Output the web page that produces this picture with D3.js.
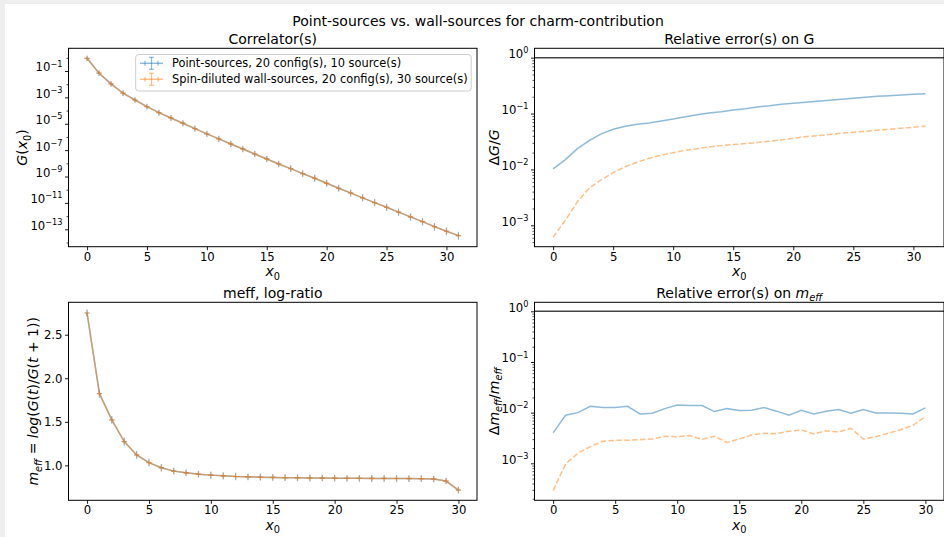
<!DOCTYPE html>
<html><head><meta charset="utf-8">
<script src="https://cdn.jsdelivr.net/npm/d3@7"></script>
<style>
body{margin:0;background:#eeeeee;}
svg{display:block;}
</style></head><body>
<svg id="fig" width="944" height="537"></svg>
<script>
// values
const labels = ["Point-sources, 20 config(s), 10 source(s)",
                "Spin-diluted wall-sources, 20 config(s), 30 source(s)"];

const gPoint = [0.91, 6.8e-2, 1.05e-2, 2.1e-3, 6.3e-4, 2.0e-4, 6.9e-5, 2.75e-5, 1.1e-5, 4.3e-6,
  1.7e-6, 7.1e-7, 2.95e-7, 1.23e-7, 5.1e-8, 2.14e-8, 8.9e-9, 4.0e-9, 1.66e-9, 7.4e-10,
  3.1e-10, 1.29e-10, 5.75e-11, 2.4e-11, 1.05e-11, 4.7e-12, 2.0e-12, 8.7e-13, 3.8e-13, 1.58e-13,
  7.1e-14, 3.3e-14];
const gWall = [0.91, 6.8e-2, 1.05e-2, 2.1e-3, 6.3e-4, 2.0e-4, 6.9e-5, 2.75e-5, 1.1e-5, 4.3e-6,
  1.7e-6, 7.1e-7, 2.95e-7, 1.23e-7, 5.1e-8, 2.14e-8, 8.9e-9, 4.0e-9, 1.66e-9, 7.4e-10,
  3.1e-10, 1.29e-10, 5.75e-11, 2.4e-11, 1.05e-11, 4.7e-12, 2.0e-12, 8.7e-13, 3.8e-13, 1.58e-13,
  7.1e-14, 3.3e-14];

const relGPoint = [0.0102, 0.0148, 0.0233, 0.0327, 0.0432, 0.0525, 0.0593, 0.0646, 0.0679, 0.0738,
  0.080, 0.088, 0.0955, 0.102, 0.108, 0.116, 0.122, 0.131, 0.138, 0.147,
  0.153, 0.159, 0.166, 0.173, 0.180, 0.188, 0.196, 0.204, 0.209, 0.215, 0.221, 0.227];
const relGWall = [6.1e-4, 1.21e-3, 2.59e-3, 4.61e-3, 6.49e-3, 8.77e-3, 0.0112, 0.01346, 0.01585, 0.01795,
  0.01995, 0.02203, 0.02355, 0.0253, 0.02667, 0.0278, 0.029, 0.0302, 0.0319, 0.0337,
  0.0361, 0.0386, 0.0403, 0.042, 0.0445, 0.0462, 0.0482, 0.0502, 0.0524, 0.0546, 0.0569, 0.060];

const meffPoint = [2.749, 1.823, 1.522, 1.273, 1.12, 1.032, 0.972, 0.934, 0.914, 0.899,
  0.888, 0.880, 0.872, 0.869, 0.865, 0.862, 0.859, 0.857, 0.855, 0.854,
  0.853, 0.852, 0.851, 0.850, 0.850, 0.849, 0.848, 0.847, 0.843, 0.820, 0.715];
const meffWall = [2.749, 1.823, 1.522, 1.273, 1.12, 1.032, 0.972, 0.934, 0.914, 0.899,
  0.888, 0.880, 0.872, 0.869, 0.865, 0.862, 0.859, 0.857, 0.855, 0.854,
  0.853, 0.852, 0.851, 0.850, 0.850, 0.849, 0.848, 0.847, 0.843, 0.820, 0.715];

const relMPoint = [0.0040, 0.0089, 0.0100, 0.0133, 0.0126, 0.0127, 0.0133, 0.0094, 0.0097, 0.0120,
  0.0141, 0.0138, 0.0138, 0.0105, 0.0120, 0.0110, 0.0112, 0.0126, 0.0107, 0.0089,
  0.0111, 0.0094, 0.0107, 0.0115, 0.0097, 0.0115, 0.0098, 0.0098, 0.0097, 0.0094, 0.0124];
const relMWall = [2.9e-4, 9.7e-4, 1.58e-3, 2.14e-3, 2.72e-3, 2.84e-3, 2.84e-3, 2.93e-3, 3.02e-3, 3.41e-3,
  3.36e-3, 3.52e-3, 2.98e-3, 3.41e-3, 2.59e-3, 3.02e-3, 3.63e-3, 3.91e-3, 3.85e-3, 4.29e-3,
  4.55e-3, 3.80e-3, 4.37e-3, 4.17e-3, 4.90e-3, 3.02e-3, 3.36e-3, 3.91e-3, 4.61e-3, 5.62e-3, 8.32e-3];

const xTicks = [0, 5, 10, 15, 20, 25, 30];
const logTicksG = [1e-1, 1e-3, 1e-5, 1e-7, 1e-9, 1e-11, 1e-13];
const logTicksRel = [1, 1e-1, 1e-2, 1e-3];
const meffTicks = [1.0, 1.5, 2.0, 2.5];

const FONT = "DejaVu Sans, sans-serif";
const BLUE = "#1f77b4", ORANGE = "#ff7f0e";
const TICK_FS = 11.7, TITLE_FS = 14, LEGEND_FS = 11.4;

const svg = d3.select("#fig").attr("font-family", FONT);
svg.append("rect").attr("width", 944).attr("height", 537).attr("fill", "#eeeeee");
svg.append("rect").attr("x", 5).attr("y", 4).attr("width", 939).attr("height", 533).attr("fill", "#fff");

// text with sub/superscripts and italics, like matplotlib mathtext
function mathText(t, parts, fs) {
  let shift = 0;
  parts.forEach(function (p) {
    const s = p[0], k = p[1];
    const ts = t.append("tspan").text(s);
    let target = 0;
    if (k === "sub" || k === "subi") target = 0.25 * fs;
    if (k === "sup") target = -0.42 * fs;
    ts.attr("dy", target - shift);
    shift = target;
    if (k === "i" || k === "subi") ts.attr("font-style", "italic");
    if (k === "sub" || k === "subi" || k === "sup") ts.attr("font-size", fs * 0.7);
  });
}

function expLabel(sel) {
  sel.each(function (d) {
    const t = d3.select(this).text("");
    const e = Math.round(Math.log10(d));
    mathText(t, [["10", "n"], [(e < 0 ? "\u2212" : "") + Math.abs(e), "sup"]], TICK_FS);
  });
}

const boxes = {
  tl: {x0: 68.5, x1: 477, y0: 48.3, y1: 246.7},
  tr: {x0: 534.5, x1: 944, y0: 48.3, y1: 246.7},
  bl: {x0: 68.5, x1: 477, y0: 302.3, y1: 500.3},
  br: {x0: 534.5, x1: 944, y0: 302.3, y1: 500.3}
};

function styleAxis(g) {
  g.select(".domain").remove();
  g.selectAll("line").attr("stroke", "#000").attr("stroke-width", 0.9);
  g.selectAll("text").attr("font-size", TICK_FS).attr("fill", "#000").attr("font-family", FONT);
}

function makePanel(b, xDom, y, yTicks, logLabels, minor) {
  const x = d3.scaleLinear().domain(xDom).range([b.x0, b.x1]);
  y.range([b.y1, b.y0]);
  const g = svg.append("g");
  const clip = "clip" + Math.round(b.x0) + Math.round(b.y0);
  svg.append("clipPath").attr("id", clip).append("rect")
    .attr("x", b.x0).attr("y", b.y0).attr("width", b.x1 - b.x0).attr("height", b.y1 - b.y0);

  const gx = g.append("g").attr("transform", "translate(0," + b.y1 + ")")
    .call(d3.axisBottom(x).tickValues(xTicks).tickSize(3.5).tickSizeOuter(0).tickPadding(2.3)
      .tickFormat(d3.format("d")));
  styleAxis(gx);

  if (minor) {
    const gm = g.append("g").attr("transform", "translate(" + b.x0 + ",0)")
      .call(d3.axisLeft(y).tickValues(minor).tickSize(2).tickSizeOuter(0).tickFormat(""));
    styleAxis(gm);
    gm.selectAll("line").attr("stroke-width", 0.7);
  }
  const gy = g.append("g").attr("transform", "translate(" + b.x0 + ",0)")
    .call(d3.axisLeft(y).tickValues(yTicks).tickSize(3.5).tickSizeOuter(0).tickPadding(2.5)
      .tickFormat(logLabels ? function (d) { return d; } : d3.format(".1f")));
  styleAxis(gy);
  if (logLabels) expLabel(gy.selectAll(".tick text"));

  const plot = svg.append("g").attr("clip-path", "url(#" + clip + ")");
  return {x: x, y: y, g: g, plot: plot, b: b};
}

function frame(p) {
  svg.append("rect").attr("x", p.b.x0).attr("y", p.b.y0)
    .attr("width", p.b.x1 - p.b.x0).attr("height", p.b.y1 - p.b.y0)
    .attr("fill", "none").attr("stroke", "#000").attr("stroke-width", 1);
}

function title(p, parts) {
  const t = svg.append("text").attr("x", (p.b.x0 + p.b.x1) / 2).attr("y", p.b.y0 - 4.5)
    .attr("text-anchor", "middle").attr("font-size", TITLE_FS);
  mathText(t, parts, TITLE_FS);
}

function ylabel(p, xPos, parts) {
  const cy = (p.b.y0 + p.b.y1) / 2;
  const t = svg.append("text").attr("transform", "translate(" + xPos + "," + cy + ") rotate(-90)")
    .attr("text-anchor", "middle").attr("font-size", TITLE_FS);
  mathText(t, parts, TITLE_FS);
}

function xlabel(p) {
  const t = svg.append("text").attr("x", (p.b.x0 + p.b.x1) / 2).attr("y", p.b.y1 + 29.5)
    .attr("text-anchor", "middle").attr("font-size", TITLE_FS);
  mathText(t, [["x", "i"], ["0", "sub"]], TITLE_FS);
}

function errSeries(p, vals, rel, color) {
  const line = d3.line().x(function (d, i) { return p.x(i); }).y(function (d) { return p.y(d); });
  p.plot.append("path").datum(vals).attr("d", line).attr("fill", "none")
    .attr("stroke", color).attr("stroke-opacity", 0.5).attr("stroke-width", 1.5);
  const pts = p.plot.append("g").attr("stroke", color).attr("stroke-opacity", 0.5).attr("stroke-width", 1.2)
    .selectAll("g").data(vals).join("g");
  pts.append("line")
    .attr("x1", function (d, i) { return p.x(i) - 2.6; }).attr("x2", function (d, i) { return p.x(i) + 2.6; })
    .attr("y1", function (d) { return p.y(d); }).attr("y2", function (d) { return p.y(d); });
  pts.append("line")
    .attr("x1", function (d, i) { return p.x(i); }).attr("x2", function (d, i) { return p.x(i); })
    .attr("y1", function (d, i) { return p.y(d * (1 + rel[i])) - 2.6; })
    .attr("y2", function (d, i) { return p.y(d * (1 - rel[i])) + 2.6; });
}

function relSeries(p, vals, color, dashed) {
  const line = d3.line().x(function (d, i) { return p.x(i); }).y(function (d) { return p.y(d); });
  p.plot.append("path").datum(vals).attr("d", line).attr("fill", "none")
    .attr("stroke", color).attr("stroke-opacity", 0.5).attr("stroke-width", 1.5)
    .attr("stroke-dasharray", dashed ? "5.5,2.4" : null);
}

function unitLine(p) {
  p.plot.append("line").attr("x1", p.b.x0).attr("x2", p.b.x1)
    .attr("y1", p.y(1)).attr("y2", p.y(1)).attr("stroke", "#444").attr("stroke-width", 1.5);
}

// --- Correlator
const yTL = d3.scaleLog().domain([Math.pow(10, -14.32), Math.pow(10, 0.72)]);
const minorG = [1, 1e-2, 1e-4, 1e-6, 1e-8, 1e-10, 1e-12, 1e-14];
const pTL = makePanel(boxes.tl, [-1.55, 32.55], yTL, logTicksG, true, minorG);
errSeries(pTL, gPoint, relGPoint, BLUE);
errSeries(pTL, gWall, relGWall, ORANGE);
frame(pTL);
title(pTL, [["Correlator(s)", "n"]]);
ylabel(pTL, 27, [["G", "i"], ["(", "n"], ["x", "i"], ["0", "sub"], [")", "n"]]);
xlabel(pTL);

// legend
const leg = svg.append("g");
leg.append("rect").attr("x", 135.7).attr("y", 54.5).attr("width", 335.5).attr("height", 36.5)
  .attr("rx", 3).attr("fill", "#fff").attr("fill-opacity", 0.8).attr("stroke", "#cccccc").attr("stroke-width", 1);
[BLUE, ORANGE].forEach(function (c, i) {
  const cy = 63.3 + i * 16;
  const h = leg.append("g").attr("stroke", c).attr("stroke-opacity", 0.5);
  h.append("line").attr("x1", 140).attr("x2", 163).attr("y1", cy).attr("y2", cy).attr("stroke-width", 1.5);
  h.append("line").attr("x1", 151.5).attr("x2", 151.5).attr("y1", cy - 6).attr("y2", cy + 6).attr("stroke-width", 1.2);
  h.append("line").attr("x1", 149).attr("x2", 154).attr("y1", cy - 6).attr("y2", cy - 6).attr("stroke-width", 1.2);
  h.append("line").attr("x1", 149).attr("x2", 154).attr("y1", cy + 6).attr("y2", cy + 6).attr("stroke-width", 1.2);
  h.append("line").attr("x1", 145).attr("x2", 145).attr("y1", cy - 2.5).attr("y2", cy + 2.5).attr("stroke-width", 1.2);
  h.append("line").attr("x1", 158).attr("x2", 158).attr("y1", cy - 2.5).attr("y2", cy + 2.5).attr("stroke-width", 1.2);
  leg.append("text").attr("x", 172).attr("y", cy + 4.1).attr("font-size", LEGEND_FS).text(labels[i]);
});

// --- Relative error on G
const yTR = d3.scaleLog().domain([Math.pow(10, -3.383), Math.pow(10, 0.168)]);
const pTR = makePanel(boxes.tr, [-1.55, 32.55], yTR, logTicksRel, true,
  yTR.ticks().filter(function (t) { return logTicksRel.indexOf(t) < 0; }));
relSeries(pTR, relGPoint, BLUE, false);
relSeries(pTR, relGWall, ORANGE, true);
unitLine(pTR);
frame(pTR);
title(pTR, [["Relative error(s) on G", "n"]]);
ylabel(pTR, 499, [["\u0394", "n"], ["G", "i"], ["/", "n"], ["G", "i"]]);
xlabel(pTR);

// --- meff
const yBL = d3.scaleLinear().domain([0.599, 2.872]);
const pBL = makePanel(boxes.bl, [-1.5, 31.5], yBL, meffTicks, false, null);
errSeries(pBL, meffPoint, relMPoint, BLUE);
errSeries(pBL, meffWall, relMWall, ORANGE);
frame(pBL);
title(pBL, [["meff, log-ratio", "n"]]);
ylabel(pBL, 38, [["m", "i"], ["eff", "subi"], [" = ", "n"], ["log", "i"], ["(", "n"], ["G", "i"], ["(", "n"],
  ["t", "i"], [")/", "n"], ["G", "i"], ["(", "n"], ["t", "i"], [" + 1))", "n"]]);
xlabel(pBL);

// --- Relative error on meff
const yBR = d3.scaleLog().domain([Math.pow(10, -3.73), Math.pow(10, 0.178)]);
const pBR = makePanel(boxes.br, [-1.5, 31.5], yBR, logTicksRel, true,
  yBR.ticks().filter(function (t) { return logTicksRel.indexOf(t) < 0; }));
relSeries(pBR, relMPoint, BLUE, false);
relSeries(pBR, relMWall, ORANGE, true);
unitLine(pBR);
frame(pBR);
title(pBR, [["Relative error(s) on ", "n"], ["m", "i"], ["eff", "subi"]]);
ylabel(pBR, 498.7, [["\u0394", "n"], ["m", "i"], ["eff", "subi"], ["/", "n"], ["m", "i"], ["eff", "subi"]]);
xlabel(pBR);

// suptitle
svg.append("text").attr("x", 478).attr("y", 26).attr("text-anchor", "middle")
  .attr("font-size", TITLE_FS).text("Point-sources vs. wall-sources for charm-contribution");
</script></body></html>
